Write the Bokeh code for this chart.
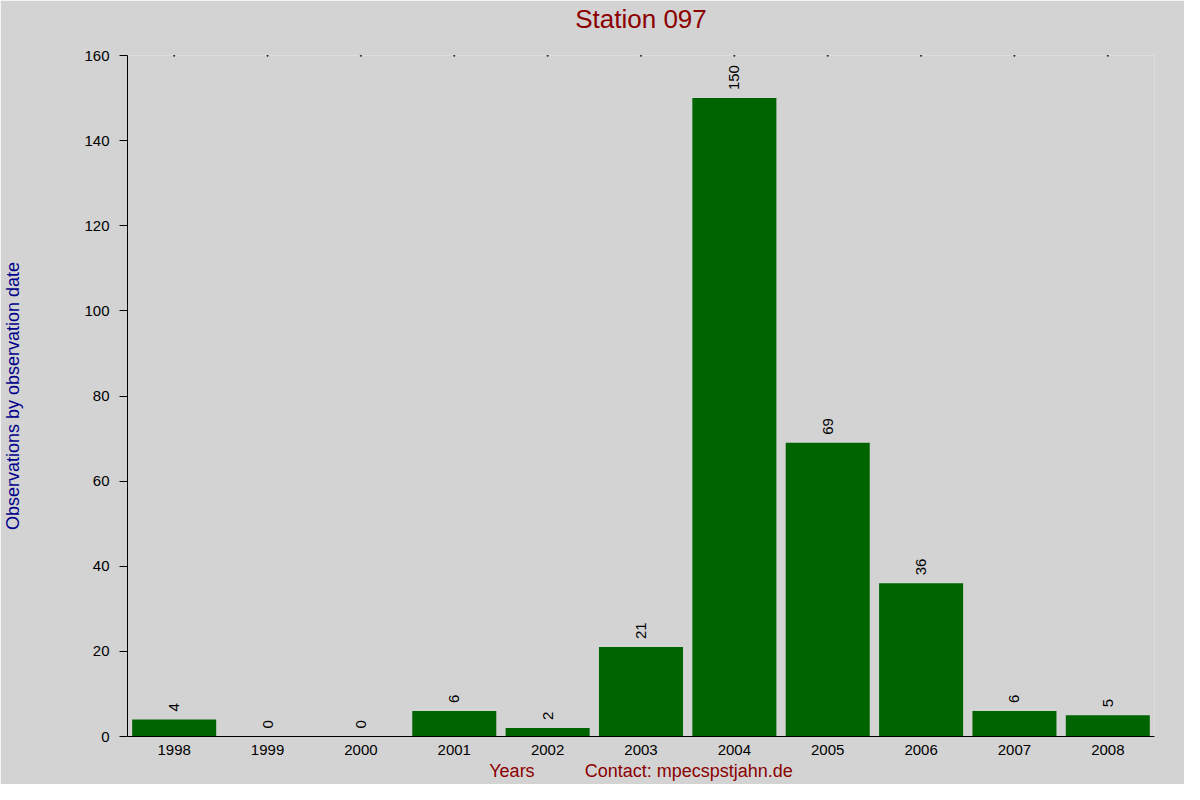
import math
from bokeh.plotting import figure
from bokeh.models import ColumnDataSource, Title, CategoricalAxis, FixedTicker
from bokeh.core.properties import value
from bokeh.embed import file_html
from bokeh.resources import INLINE

years = ["1998", "1999", "2000", "2001", "2002", "2003", "2004", "2005", "2006", "2007", "2008"]
counts = [4, 0, 0, 6, 2, 21, 150, 69, 36, 6, 5]
y_ticks = [0, 20, 40, 60, 80, 100, 120, 140, 160]
title_text = "Station 097"
y_label_text = "Observations by observation date"
x_label_text = "Years"
contact_text = "Contact: mpecspstjahn.de"

FONT = "Liberation Sans"
BG = "#d3d3d3"
RED = "#8b0000"
BLUE = "#00008b"

src = ColumnDataSource(dict(years=years, counts=counts, labels=[str(c) for c in counts],
                            top=[y_ticks[-1]] * len(years)))

p = figure(x_range=years, y_range=(0, 160), width=1184, height=784,
           output_backend="svg", toolbar_location=None,
           min_border_left=124, min_border_right=30, min_border_top=55, min_border_bottom=48,
           background_fill_color=BG, border_fill_color=BG, outline_line_color=None)
p.x_range.range_padding = 0

p.vbar(x="years", top="counts", width=0.9, source=src, fill_color="#006400", line_color=None)
p.text(x="years", y="counts", text="labels", source=src, angle=math.pi / 2,
       text_align="left", text_baseline="middle", x_offset=0, y_offset=-8,
       text_font=value(FONT), text_font_size="15px", text_color="black")
# tiny tick dots along the top edge
p.scatter(x="years", y="top", source=src, marker="square", size=1.2, color="black")

p.xgrid.visible = False
p.ygrid.visible = False

# top axis carries only the chart title as its label
top_axis = CategoricalAxis(ticker=FixedTicker(ticks=[]), axis_line_color=None,
                           major_tick_line_color=None, minor_tick_line_color=None,
                           major_label_standoff=0,
                           axis_label=title_text, axis_label_standoff=22,
                           axis_label_text_font=FONT, axis_label_text_font_size="26px",
                           axis_label_text_font_style="normal", axis_label_text_color=RED)
p.add_layout(top_axis, "above")

# y axis
p.yaxis.ticker = y_ticks
p.yaxis.minor_tick_line_color = None
p.yaxis.major_tick_in = 0
p.yaxis.major_tick_out = 8
p.yaxis.major_label_standoff = 10
p.yaxis.major_label_text_font = FONT
p.yaxis.major_label_text_font_size = "15px"
p.yaxis.major_label_text_color = "black"
p.yaxis.axis_line_color = "black"
p.yaxis.axis_label = y_label_text
p.yaxis.axis_label_text_font = FONT
p.yaxis.axis_label_text_font_size = "18px"
p.yaxis.axis_label_text_font_style = "normal"
p.yaxis.axis_label_text_color = BLUE
p.yaxis.axis_label_standoff = 58

# x axis
xa = p.below[0]
xa.major_tick_in = 0
xa.major_tick_out = 0
xa.minor_tick_line_color = None
xa.major_label_standoff = 8
xa.major_label_text_font = FONT
xa.major_label_text_font_size = "15px"
xa.major_label_text_color = "black"
xa.axis_line_color = "black"

# bottom line: "Years" and contact
bottom = Title(text=x_label_text + "\u00a0" * 10 + contact_text, align="center",
               text_font=FONT, text_font_size="18px", text_font_style="normal",
               text_color=RED, standoff=2)
p.add_layout(bottom, "below")

open("out.html", "w").write(file_html(p, INLINE))
